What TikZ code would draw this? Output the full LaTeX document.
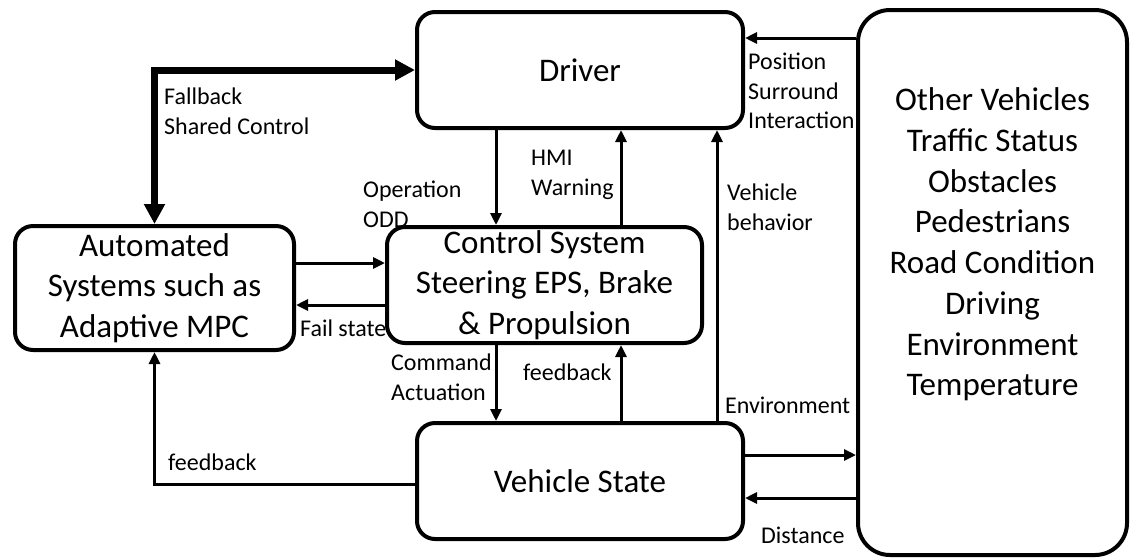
\documentclass[tikz,border=0pt]{standalone}
\usepackage{fontspec}
\setmainfont{Carlito}
\usepackage{tikz}
\usetikzlibrary{shapes,arrows,arrows.meta,calc}
\newcommand{\boxfont}{\fontsize{33}{40.7}\selectfont}
\newcommand{\lblfont}{\fontsize{24}{29.5}\selectfont}
\tikzstyle{box_style}=[draw, rounded corners=18pt, line width=4pt,
anchor=center, align=center, font=\boxfont, inner sep=0pt]
\tikzstyle{envbox}=[box_style, rounded corners=32pt]
\tikzstyle{myarrow}=[-{Triangle[length=12pt,width=11pt]}, line width=3pt]
\tikzstyle{fatarrow}=[{Triangle[length=20pt,width=20pt]}-{Triangle[length=20pt,width=20pt]}, line width=7pt]
\tikzstyle{lbl}=[anchor=west, align=left, inner sep=0pt, font=\lblfont]

\begin{document}
\begin{tikzpicture}[x=1pt,y=-1pt]
		\useasboundingbox (0,0) rectangle (1131,558);

		% blocks
		\node[box_style, minimum width=326pt, minimum height=116pt] (driver) at (580,70) {Driver} ;
		\node[box_style, minimum width=315pt, minimum height=116pt] (ctrl) at (544.5,285) {Control System\\Steering EPS, Brake\\\& Propulsion} ;
		\node[box_style, minimum width=279pt, minimum height=124pt] (auto) at (154.5,288) {Automated\\Systems such as\\Adaptive MPC} ;
		\node[box_style, minimum width=326pt, minimum height=116pt] (vs) at (580,481) {Vehicle State} ;
		\node[envbox, minimum width=269pt, minimum height=545pt] (other) at (992.5,282.5) {} ;
		\node[align=center, font=\boxfont] (othertxt) at (992.5,244.5) {Other Vehicles\\Traffic Status\\Obstacles\\Pedestrians\\Road Condition\\Driving\\Environment\\Temperature} ;

		% columns and rows of the connectors
		\coordinate (colA) at (496,0) ;
		\coordinate (colB) at (621,0) ;
		\coordinate (colC) at (717,0) ;
		\coordinate (rowPos) at (0,38) ;
		\coordinate (rowAuto) at (0,263) ;
		\coordinate (rowFail) at (0,305) ;
		\coordinate (rowFb) at (0,484) ;
		\coordinate (rowEnv) at (0,455) ;
		\coordinate (rowDist) at (0,498) ;

		\draw[fatarrow] (auto.north) |- (driver.west) ;
		\draw[myarrow] (other.west |- rowPos) -- (driver.east |- rowPos) ;
		\draw[myarrow] (driver.south -| colA) -- (ctrl.north -| colA) ;
		\draw[myarrow] (ctrl.north -| colB) -- (driver.south -| colB) ;
		\draw[myarrow] (vs.north -| colC) -- (driver.south -| colC) ;
		\draw[myarrow] (auto.east |- rowAuto) -- (ctrl.west |- rowAuto) ;
		\draw[myarrow] (ctrl.west |- rowFail) -- (auto.east |- rowFail) ;
		\draw[myarrow] (ctrl.south -| colA) -- (vs.north -| colA) ;
		\draw[myarrow] (vs.north -| colB) -- (ctrl.south -| colB) ;
		\draw[myarrow] (vs.west |- rowFb) -| (auto.south) ;
		\draw[myarrow] (vs.east |- rowEnv) -- (other.west |- rowEnv) ;
		\draw[myarrow] (other.west |- rowDist) -- (vs.east |- rowDist) ;

		% labels
		\node[lbl] (fallback) at (164,111) {Fallback\\Shared Control} ;
		\node[lbl] (operation) at (363,204.5) {Operation\\ODD} ;
		\node[lbl] (hmi) at (531,175) {HMI\\Warning} ;
		\node[lbl] (behavior) at (727,207) {Vehicle\\behavior} ;
		\node[lbl] (position) at (748,91) {Position\\Surround\\Interaction} ;
		\node[lbl] (fail) at (300,328) {Fail state} ;
		\node[lbl] (command) at (391,377) {Command\\Actuation} ;
		\node[lbl] (fbctrl) at (523,372) {feedback} ;
		\node[lbl] (environment) at (725,405) {Environment} ;
		\node[lbl] (distance) at (761,535) {Distance} ;
		\node[lbl] (fbauto) at (168,462) {feedback} ;
	\end{tikzpicture}
\end{document}
